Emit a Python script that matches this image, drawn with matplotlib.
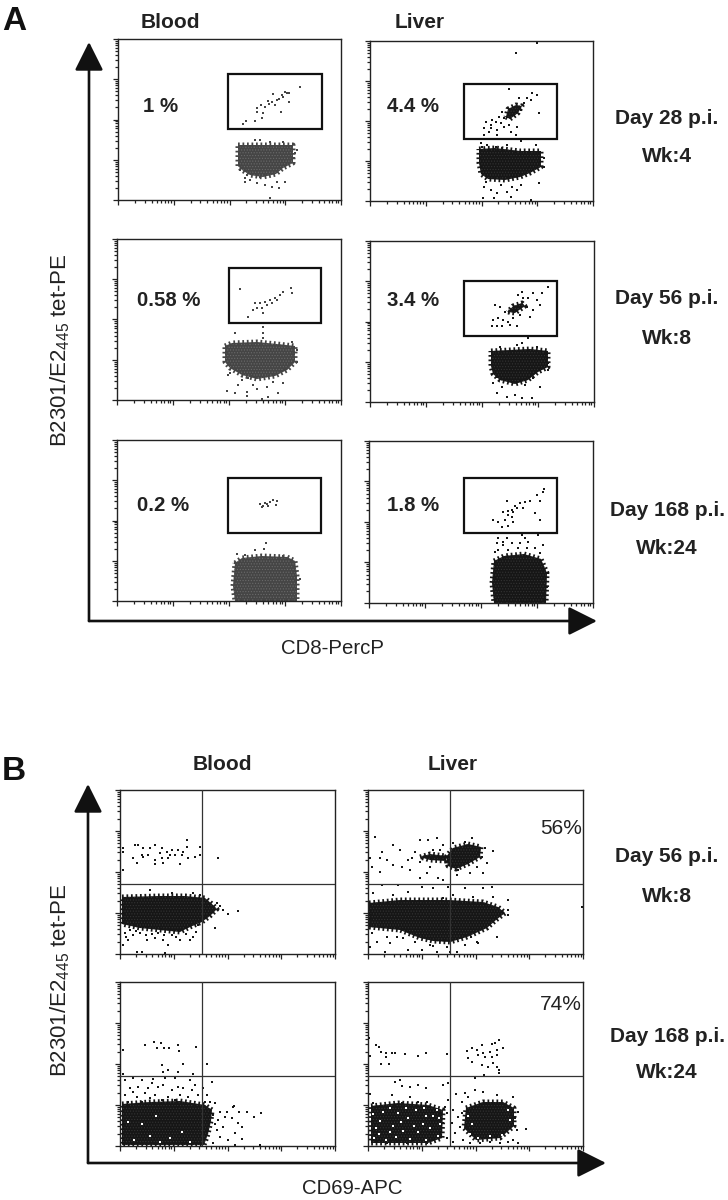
#Flow cytometry dot plots: tetramer staining in blood and liver over time
#All dot and cloud values are in channel units (0,0 = lower left of a panel)

import numpy as np
import matplotlib
matplotlib.use("Agg")
import matplotlib.pyplot as plt
from matplotlib.patches import Rectangle

plt.rcParams['font.family'] = ['Liberation Sans', 'DejaVu Sans']
plt.rcParams['mathtext.default'] = 'regular'
plt.rcParams['hatch.linewidth'] = 0.5

"""PANEL A VALUES"""
a1_blood_pct = "1 %"
a1_blood_gate = (110, 71, 94, 55)
a1_blood_cloud = [(120,55),(175,55),(175,37),(165,32),(158,26),(145,23),(132,25),(124,30),(120,34)]
a1_blood_dots = [(182,113),(171,107),(167,108),(164,105),(161,101),(159,100),(155,106),(154,98),(150,99),(147,93),
                 (143,95),(139,92),(139,88),(145,87),(144,82),(137,79),(128,79),(125,76),(163,88),(171,98),(157,95),
                 (165,103),(169,107),(151,96),(127,22),(132,20),(139,17),(147,15),(154,13),(161,12),(152,2),(167,18),
                 (142,23),(127,18),(137,60),(142,60),(152,58),(165,58),(177,47),(179,50),(176,42),(122,30),(129,25),(159,18)]

a1_liver_pct = "4.4 %"
a1_liver_gate = (94, 62, 93, 55)
a1_liver_cloud = [(109,52),(125,53),(150,50),(171,50),(171,34),(160,28),(150,24),(135,21),(118,22),(111,27),(109,38)]
a1_liver_knot = [(136,84),(140,82),(148,88),(152,95),(146,96),(138,92)]
a1_liver_dots = [(167,106),(162,108),(157,103),(154,98),(149,103),(139,112),(169,88),(146,148),(167,158),(132,89),(129,84),
                 (126,79),(121,76),(116,79),(114,73),(119,69),(127,71),(134,74),(141,69),(147,74),(114,66),(122,81),(131,78),
                 (139,76),(127,66),(146,66),(134,83),(121,73),(161,101),(151,91),(111,58),(117,56),(126,54),(137,56),(151,60),
                 (166,56),(174,43),(174,34),(169,18),(114,14),(121,11),(127,8),(137,9),(147,11),(151,16),(113,3),(124,3),
                 (141,4),(161,1),(116,19),(131,16),(142,14),(112,54),(132,53)]

a2_blood_pct = "0.58 %"
a2_blood_gate = (112, 77, 92, 55)
a2_blood_cloud = [(108,54),(115,57),(140,58),(160,56),(178,54),(178,38),(170,30),(158,24),(140,21),(125,25),(113,32),(108,38)]
a2_blood_dots = [(123,111),(174,112),(175,107),(166,108),(163,105),(158,102),(153,100),(148,98),(143,97),(138,97),(140,92),
                 (145,92),(150,95),(136,90),(131,83),(160,100),(146,87),(155,97),(146,73),(118,67),(146,67),(146,62),(110,9),
                 (118,7),(130,8),(130,4),(140,11),(151,3),(145,1),(161,7),(121,15),(136,15),(150,13),(166,17),(113,27),(125,20),
                 (175,58),(180,50),(180,38),(111,25),(156,18),(131,22)]

a2_liver_pct = "3.4 %"
a2_liver_gate = (94, 66, 93, 55)
a2_liver_cloud = [(121,51),(140,52),(160,53),(178,51),(178,35),(168,30),(158,22),(145,18),(130,22),(123,28),(121,36)]
a2_liver_knot = [(138,90),(145,89),(155,96),(152,99),(143,96)]
a2_liver_dots = [(178,115),(172,109),(163,109),(152,110),(158,104),(167,102),(153,104),(148,107),(130,95),(125,97),(135,90),
                 (128,84),(133,82),(138,80),(122,76),(127,76),(132,76),(140,77),(147,76),(150,87),(160,85),(163,92),(170,97),
                 (157,95),(123,82),(143,84),(158,64),(152,59),(167,55),(178,39),(178,32),(170,15),(127,9),(137,5),(145,7),
                 (152,4),(162,4),(123,19),(132,15),(155,17),(127,25),(163,24),(130,55),(147,57)]

a3_blood_pct = "0.2 %"
a3_blood_gate = (111, 68, 93, 55)
a3_blood_cloud = [(118,38),(125,43),(145,45),(170,44),(178,40),(180,25),(180,0),(118,0),(116,15)]
a3_blood_dots = [(143,97),(146,95),(150,97),(153,99),(156,101),(160,100),(159,96),(148,98),(145,94),(151,95),(149,58),(147,52),
                 (138,51),(120,47),(128,46),(166,45),(183,22),(118,38)]

a3_liver_pct = "1.8 %"
a3_liver_gate = (95, 70, 93, 55)
a3_liver_cloud = [(125,42),(135,47),(155,49),(172,44),(178,30),(177,0),(125,0),(123,20)]
a3_liver_dots = [(175,114),(174,111),(168,108),(171,102),(161,102),(156,101),(151,100),(146,97),(138,102),(143,93),(139,92),
                 (144,91),(134,91),(148,95),(154,95),(139,88),(143,86),(166,90),(171,83),(124,83),(129,81),(133,76),(139,77),
                 (136,83),(144,81),(129,65),(138,65),(146,70),(153,68),(169,68),(128,60),(134,58),(143,60),(151,60),(159,61),
                 (174,58),(129,53),(139,53),(149,55),(158,55),(166,55),(126,51),(171,50),(134,61),(156,65),(179,30),(178,16)]

"""PANEL B VALUES"""
b_quad_x = 82
b_quad_y = 70

b1_blood_cloud = [(2,57),(40,58),(65,58),(85,56),(92,50),(97,45),(90,38),(82,32),(70,27),(60,22),(40,24),(20,26),(2,30)]
b1_blood_dots = [(3,106),(3,102),(15,109),(18,109),(23,106),(30,106),(35,109),(42,106),(47,102),(52,104),(58,104),(67,114),
                 (67,107),(80,107),(80,99),(75,97),(68,96),(62,99),(55,99),(48,96),(42,96),(35,94),(28,99),(22,99),(13,96),
                 (17,91),(35,90),(43,91),(60,90),(98,96),(3,84),(23,97),(40,101),(50,99),(63,102),(5,21),(13,19),(8,14),(3,9),
                 (17,2),(22,2),(27,14),(35,16),(43,14),(48,9),(45,1),(52,19),(60,14),(73,17),(78,29),(95,26),(118,43),(108,40),
                 (103,44),(100,48),(97,51),(30,64),(52,61),(73,61),(80,59),(20,21),(10,24),(38,21),(6,17),(16,23),(26,19),
                 (32,20),(44,19),(56,17),(66,20),(70,14),(76,22)]

b1_liver_pct = "56%"
b1_liver_cloud = [(1,51),(32,54),(80,54),(115,52),(130,47),(137,41),(128,34),(119,26),(99,17),(82,12),(65,13),(52,16),(32,24),(1,27)]
b1_liver_blob = [(78,97),(85,106),(100,110),(113,107),(112,97),(100,90),(88,85),(80,88)]
b1_liver_streak = [(52,97),(62,100),(78,98),(78,93),(62,94)]
b1_liver_dots = [(7,117),(2,96),(4,87),(14,102),(12,96),(19,94),(25,89),(32,104),(25,109),(34,87),(40,94),(47,102),(42,84),
                 (52,114),(60,114),(69,116),(75,109),(65,104),(72,104),(52,76),(59,81),(70,76),(75,74),(62,87),(89,79),(102,81),
                 (115,81),(119,91),(125,103),(117,106),(114,97),(109,87),(104,116),(97,112),(85,111),(90,84),(52,92),(44,96),
                 (12,82),(14,69),(5,61),(30,69),(25,59),(54,67),(65,66),(80,67),(85,59),(97,66),(115,66),(124,67),(140,54),
                 (140,44),(140,39),(129,17),(214,47),(110,11),(103,17),(40,62),(75,56),(105,57),(125,57),(4,21),(9,12),(19,17),
                 (2,7),(22,11),(17,2),(40,4),(47,12),(54,4),(62,9),(69,2),(79,7),(89,2),(97,9),(82,2),(29,17),(35,16),(65,8),(109,12)]

b2_blood_cloud = [(2,42),(30,44),(60,45),(85,41),(92,36),(91,25),(88,12),(84,1),(2,1)]
b2_blood_holes = [(14,6),(30,10),(50,8),(22,22),(40,4),(62,14),(8,24),(70,4),(36,30)]
b2_blood_dots = [(25,101),(34,104),(41,103),(37,98),(44,98),(49,98),(58,101),(59,95),(76,99),(3,96),(42,81),(43,74),(48,76),
                 (58,74),(63,82),(87,82),(73,72),(3,72),(5,66),(13,68),(22,66),(33,67),(45,68),(55,68),(70,66),(92,64),(10,58),
                 (18,59),(28,58),(43,61),(52,56),(63,58),(75,61),(83,58),(5,51),(17,49),(25,53),(35,51),(48,49),(60,51),(68,49),
                 (78,51),(87,51),(8,44),(22,44),(30,48),(42,46),(55,46),(85,44),(90,44),(95,43),(13,54),(38,59),(58,59),(72,56),
                 (32,63),(100,34),(107,34),(113,39),(114,40),(119,34),(127,34),(134,29),(141,33),(93,31),(98,26),(112,28),(118,23),
                 (122,19),(97,16),(103,19),(115,13),(122,7),(108,6),(140,1),(93,3),(115,1),(100,9),(95,22),(105,29)]

b2_liver_pct = "74%"
b2_liver_cloud = [(3,40),(30,43),(60,41),(75,36),(74,8),(60,3),(3,3)]
b2_liver_blob = [(98,38),(115,44),(135,44),(146,38),(146,20),(132,8),(108,6),(96,18)]
b2_liver_holes = [(12,25),(25,20),(40,28),(55,22),(65,30),(30,33),(48,36),(15,34),(62,18),(8,18),(35,15),(50,14),
                  (6,8),(18,6),(28,9),(42,7),(58,6),(70,10),(72,22),(69,36),(5,32),(22,38),(38,38),(56,38),(11,12),(33,24),
                  (46,20),(58,30),(71,28),(22,14),(102,12),(110,8),(122,10),(134,11),(100,30),(142,26),(140,36),(104,22)]
b2_liver_dots = [(1,108),(8,101),(11,99),(13,94),(18,93),(24,93),(27,93),(37,92),(50,90),(58,93),(79,92),(2,90),(18,89),(13,82),
                 (21,82),(99,95),(104,98),(109,96),(114,101),(124,102),(131,106),(127,103),(135,98),(129,96),(122,94),(115,93),
                 (110,91),(100,88),(104,84),(117,89),(124,89),(129,91),(125,83),(114,81),(120,79),(129,79),(131,76),(131,73),
                 (116,71),(27,64),(32,66),(34,60),(42,59),(50,61),(58,58),(75,61),(80,63),(2,52),(24,51),(42,49),(107,68),(107,56),
                 (115,54),(88,52),(97,53),(100,49),(129,51),(145,49),(94,44),(80,46),(59,44),(50,44),(5,43),(34,43),(150,34),
                 (147,28),(149,16),(158,17),(145,6),(150,3),(79,33),(85,36),(90,29),(84,23),(92,19),(87,13),(79,8),(95,6),(85,4),
                 (72,13),(65,6),(59,3),(49,3),(39,3),(29,4),(19,3),(9,4),(4,8),(102,3),(112,3),(122,4),(132,3),(140,4),(75,23),
                 (94,33),(72,33),(77,39)]

"""LABELS"""
row_labels_a = [("Day 28 p.i.", "Wk:4"), ("Day 56 p.i.", "Wk:8"), ("Day 168 p.i.", "Wk:24")]
row_labels_b = [("Day 56 p.i.", "Wk:8"), ("Day 168 p.i.", "Wk:24")]
tet_label = "B2301/E2$_{445}$ tet-PE"

W = 728
H = 1200
GREY_CLOUD = "#454545"
DARK_CLOUD = "#161616"
TEXT = "#222222"

fig = plt.figure(figsize=(W/100, H/100), dpi=100)


def panel(left, top, right, bottom):
    #panel box given in figure pixels, its data units are also pixels wide
    w = right-left
    h = bottom-top
    ax = fig.add_axes([left/W, 1-bottom/H, w/W, h/H])
    ax.set_xlim(0, w)
    ax.set_ylim(0, h)
    ax.set_facecolor("white")
    for s in ax.spines.values():
        s.set_linewidth(1.0)
        s.set_color("#222222")
    minor = np.log10(np.arange(2, 10))
    decades = np.arange(4)
    ax.set_xticks(np.arange(5)*w/4)
    ax.set_yticks(np.arange(5)*h/4)
    ax.set_xticks(np.concatenate([(d+minor)*w/4 for d in decades]), minor=True)
    ax.set_yticks(np.concatenate([(d+minor)*h/4 for d in decades]), minor=True)
    ax.tick_params(which="major", length=3.5, width=0.9, color="#222222", labelbottom=False, labelleft=False)
    ax.tick_params(which="minor", length=2.2, width=0.9, color="#222222")
    return ax


def cloud(ax, pts, color, speck):
    #filled outline with a speckled fill and a broken edge so it reads as packed dots
    pts = np.array(pts)
    ax.fill(pts[:, 0], pts[:, 1], facecolor=color, edgecolor=speck, hatch="......", lw=0, zorder=2)
    ring = np.vstack([pts, pts[:1]])
    ax.plot(ring[:, 0], ring[:, 1], color=color, lw=3.6, dashes=(0.35, 0.55), dash_capstyle="butt", zorder=2)


def dots(ax, pts, color=DARK_CLOUD, z=3):
    pts = np.array(pts)
    ax.scatter(pts[:, 0], pts[:, 1], s=1.3, marker="s", color=color, linewidths=0, zorder=z, clip_on=True)


def gate(ax, g):
    ax.add_patch(Rectangle((g[0], g[1]), g[2], g[3], fill=False, ec="#111111", lw=1.6, zorder=4))


def quad(ax):
    ax.axvline(b_quad_x, color="#333333", lw=0.9, zorder=4)
    ax.axhline(b_quad_y, color="#333333", lw=0.9, zorder=4)


def pct_bold(x, y, s):
    fig.text(x/W, 1-(y+2)/H, s, fontsize=14.7, fontweight="bold", color=TEXT, ha="left", va="center")


"""PANEL A DRAWING"""
ax = panel(118, 39, 341, 200)
cloud(ax, a1_blood_cloud, GREY_CLOUD, "#6a6a6a")
dots(ax, a1_blood_dots, GREY_CLOUD)
gate(ax, a1_blood_gate)
pct_bold(143, 105, a1_blood_pct)

ax = panel(370, 41, 593, 201)
cloud(ax, a1_liver_cloud, DARK_CLOUD, "#333333")
cloud(ax, a1_liver_knot, DARK_CLOUD, "#333333")
dots(ax, a1_liver_dots)
gate(ax, a1_liver_gate)
pct_bold(387, 105, a1_liver_pct)

ax = panel(117, 239, 341, 400)
cloud(ax, a2_blood_cloud, GREY_CLOUD, "#6a6a6a")
dots(ax, a2_blood_dots, GREY_CLOUD)
gate(ax, a2_blood_gate)
pct_bold(137, 298, a2_blood_pct)

ax = panel(370, 241, 594, 402)
cloud(ax, a2_liver_cloud, DARK_CLOUD, "#333333")
cloud(ax, a2_liver_knot, DARK_CLOUD, "#333333")
dots(ax, a2_liver_dots)
gate(ax, a2_liver_gate)
pct_bold(387, 299, a2_liver_pct)

ax = panel(117, 440, 341, 601)
cloud(ax, a3_blood_cloud, GREY_CLOUD, "#6a6a6a")
dots(ax, a3_blood_dots, GREY_CLOUD)
gate(ax, a3_blood_gate)
pct_bold(137, 503, a3_blood_pct)

ax = panel(369, 441, 593, 603)
cloud(ax, a3_liver_cloud, DARK_CLOUD, "#333333")
dots(ax, a3_liver_dots)
gate(ax, a3_liver_gate)
pct_bold(387, 503, a3_liver_pct)

"""PANEL B DRAWING"""
ax = panel(120, 790, 335, 954)
cloud(ax, b1_blood_cloud, DARK_CLOUD, "#333333")
dots(ax, b1_blood_dots)
quad(ax)

ax = panel(368, 790, 583, 954)
cloud(ax, b1_liver_cloud, DARK_CLOUD, "#333333")
cloud(ax, b1_liver_blob, DARK_CLOUD, "#333333")
cloud(ax, b1_liver_streak, DARK_CLOUD, "#333333")
dots(ax, b1_liver_dots)
quad(ax)

ax = panel(120, 982, 335, 1146)
cloud(ax, b2_blood_cloud, DARK_CLOUD, "#333333")
dots(ax, b2_blood_holes, "white")
dots(ax, b2_blood_dots)
quad(ax)

ax = panel(368, 982, 583, 1146)
cloud(ax, b2_liver_cloud, DARK_CLOUD, "#333333")
cloud(ax, b2_liver_blob, DARK_CLOUD, "#333333")
dots(ax, b2_liver_holes, "white")
dots(ax, b2_liver_dots)
quad(ax)

"""ARROWS AND LABELS"""
over = fig.add_axes([0, 0, 1, 1], zorder=10)
over.set_xlim(0, W)
over.set_ylim(H, 0)
over.axis("off")

arrow = dict(arrowstyle="-|>,head_length=1.1,head_width=0.55", lw=1.9, color="#111111", mutation_scale=16,
             shrinkA=0, shrinkB=0)
over.annotate("", xy=(89, 42), xytext=(89, 621), arrowprops=arrow)
over.annotate("", xy=(597, 621), xytext=(89, 621), arrowprops=arrow)
over.annotate("", xy=(88, 784), xytext=(88, 1163), arrowprops=arrow)
over.annotate("", xy=(606, 1163), xytext=(88, 1163), arrowprops=arrow)

over.text(2, 21, "A", fontsize=24, fontweight="bold", color="#111111", ha="left", va="center")
over.text(2, 772, "B", fontsize=24, fontweight="bold", color="#111111", ha="left", va="center")

for x, y, s in [(170, 23, "Blood"), (420, 23, "Liver"), (222, 764, "Blood"), (453, 764, "Liver")]:
    over.text(x, y, s, fontsize=15, fontweight="bold", color=TEXT, ha="center", va="center")

for (day, wk), y1, y2 in zip(row_labels_a, [118, 298, 510], [157, 339, 549]):
    over.text(667, y1, day, fontsize=15, fontweight="bold", color=TEXT, ha="center", va="center")
    over.text(667, y2, wk, fontsize=15, fontweight="bold", color=TEXT, ha="center", va="center")

for (day, wk), y1, y2 in zip(row_labels_b, [857, 1037], [897, 1073]):
    over.text(667, y1, day, fontsize=15, fontweight="bold", color=TEXT, ha="center", va="center")
    over.text(667, y2, wk, fontsize=15, fontweight="bold", color=TEXT, ha="center", va="center")

over.text(60, 350, tet_label, fontsize=16, color=TEXT, rotation=90, ha="center", va="center")
over.text(60, 980, tet_label, fontsize=16, color=TEXT, rotation=90, ha="center", va="center")
over.text(333, 649, "CD8-PercP", fontsize=14.7, color=TEXT, ha="center", va="center")
over.text(352, 1189, "CD69-APC", fontsize=14.7, color=TEXT, ha="center", va="center")
over.text(582, 829, b1_liver_pct, fontsize=15, color=TEXT, ha="right", va="center")
over.text(582, 1005, b2_liver_pct, fontsize=15, color=TEXT, ha="right", va="center")

fig.savefig("out.png", dpi=100)
